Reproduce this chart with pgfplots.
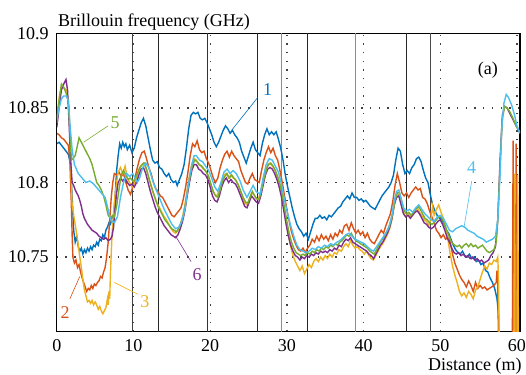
\documentclass[border=0pt]{standalone}
\usepackage{pgfplots}
\pgfplotsset{compat=1.18}
\usepackage{fontspec}
\setmainfont{Liberation Serif}
\definecolor{c1}{RGB}{0,114,189}
\definecolor{c2}{RGB}{217,83,25}
\definecolor{c3}{RGB}{237,177,32}
\definecolor{c4}{RGB}{77,190,238}
\definecolor{c5}{RGB}{119,172,48}
\definecolor{c6}{RGB}{126,47,142}
\begin{document}
\fontsize{18}{21}\selectfont
\begin{tikzpicture}[font=\fontsize{18}{21}\selectfont]
\begin{axis}[
  scale only axis, width=463.2pt, height=298.4pt,
  xmin=0, xmax=60.4, ymin=10.70, ymax=10.90,
  xtick={0,10,20,30,40,50,60}, xticklabels={0,10,20,30,40,50,60},
  ytick={10.75,10.8,10.85,10.9}, yticklabels={10.75,10.8,10.85,10.9},
  major tick length=0pt,
  tick label style={font=\fontsize{18}{21}\selectfont},
  yticklabel style={xshift=-2pt},
  xticklabel style={yshift=-1.5pt},
  grid=major,
  major grid style={black!75, line width=1.3pt, dash pattern=on 1.3pt off 7.4pt},
  axis line style={black, line width=1.1pt},
  every axis plot/.append style={line width=1.4pt},
]
\coordinate (O) at (rel axis cs:0,0);
\coordinate (T) at (rel axis cs:0,1);
% vertical reference lines
\addplot[forget plot, black!75, line width=0.8pt] coordinates {(9.9,10.70) (9.9,10.90)};
\addplot[forget plot, black!85, line width=0.7pt] coordinates {(13.2,10.70) (13.2,10.90)};
\addplot[forget plot, black!80, line width=0.8pt] coordinates {(19.7,10.70) (19.7,10.90)};
\addplot[forget plot, black!85, line width=0.7pt] coordinates {(26.1,10.70) (26.1,10.90)};
\addplot[forget plot, black!45, line width=1.1pt] coordinates {(29.3,10.70) (29.3,10.90)};
\addplot[forget plot, black!85, line width=0.7pt] coordinates {(32.7,10.70) (32.7,10.90)};
\addplot[forget plot, black!45, line width=1.1pt] coordinates {(38.9,10.70) (38.9,10.90)};
\addplot[forget plot, black!85, line width=0.7pt] coordinates {(45.6,10.70) (45.6,10.90)};
\addplot[forget plot, black!70, line width=0.8pt] coordinates {(48.75,10.70) (48.75,10.90)};
% 1 blue
\addplot[c1] coordinates {
(0,10.826)(0.3,10.827)(0.6,10.825)(0.9,10.823)(1.2,10.821)(1.5,10.819)(1.8,10.812)(2.0,10.790)(2.2,10.768)(2.4,10.760)(2.6,10.764)(2.8,10.757)(3.0,10.754)(3.2,10.756)(3.4,10.752)(3.6,10.755)(3.8,10.753)(4.0,10.756)(4.2,10.754)(4.4,10.757)(4.6,10.755)(4.8,10.758)(5.0,10.757)(5.2,10.760)(5.4,10.758)(5.6,10.762)(5.8,10.761)(6.0,10.765)(6.2,10.763)(6.4,10.768)(6.6,10.770)(6.8,10.773)(7.0,10.772)(7.2,10.777)(7.4,10.776)(7.6,10.790)(7.8,10.808)(8.0,10.818)(8.2,10.826)(8.4,10.823)(8.6,10.827)(8.8,10.824)(9.0,10.826)(9.2,10.822)(9.5,10.825)(9.8,10.820)(10.1,10.823)(10.4,10.830)(10.7,10.835)(11.0,10.840)(11.3,10.843)(11.6,10.838)(11.9,10.830)(12.2,10.822)(12.5,10.815)(12.8,10.813)(13.1,10.814)(13.4,10.810)(13.7,10.809)(14.0,10.806)(14.3,10.804)(14.6,10.806)(14.9,10.802)(15.2,10.800)(15.5,10.801)(15.7,10.798)(16.0,10.802)(16.3,10.806)(16.6,10.812)(16.9,10.823)(17.2,10.836)(17.5,10.845)(17.8,10.847)(18.1,10.846)(18.4,10.847)(18.7,10.843)(19.0,10.842)(19.3,10.843)(19.6,10.840)(19.9,10.836)(20.2,10.832)(20.5,10.827)(20.8,10.824)(21.1,10.827)(21.4,10.831)(21.7,10.835)(22.0,10.838)(22.3,10.836)(22.6,10.833)(22.9,10.835)(23.2,10.832)(23.5,10.830)(23.8,10.827)(24.1,10.821)(24.4,10.817)(24.7,10.813)(25.0,10.818)(25.3,10.823)(25.6,10.827)(25.9,10.822)(26.2,10.820)(26.5,10.818)(26.8,10.826)(27.1,10.832)(27.4,10.836)(27.7,10.832)(28.0,10.834)(28.3,10.832)(28.6,10.834)(28.9,10.829)(29.2,10.823)(29.5,10.815)(29.8,10.805)(30.1,10.797)(30.4,10.790)(30.7,10.783)(31.0,10.777)(31.3,10.772)(31.6,10.769)(31.9,10.767)(32.2,10.764)(32.5,10.766)(32.8,10.762)(33.1,10.767)(33.4,10.772)(33.7,10.776)(34.0,10.776)(34.3,10.778)(34.6,10.776)(34.9,10.777)(35.2,10.775)(35.5,10.778)(35.8,10.777)(36.1,10.779)(36.4,10.781)(36.7,10.783)(37.0,10.784)(37.3,10.787)(37.6,10.789)(37.9,10.791)(38.2,10.789)(38.5,10.793)(38.8,10.790)(39.1,10.790)(39.4,10.788)(39.7,10.789)(40.0,10.787)(40.3,10.788)(40.6,10.786)(40.9,10.784)(41.2,10.783)(41.5,10.782)(41.8,10.785)(42.1,10.788)(42.4,10.791)(42.7,10.793)(43.0,10.795)(43.3,10.797)(43.6,10.800)(43.9,10.805)(44.2,10.815)(44.5,10.823)(44.8,10.821)(45.1,10.812)(45.4,10.806)(45.7,10.808)(46.0,10.806)(46.3,10.810)(46.6,10.812)(46.9,10.816)(47.2,10.817)(47.5,10.814)(47.8,10.808)(48.1,10.803)(48.4,10.800)(48.7,10.792)(49.0,10.785)(49.3,10.781)(49.6,10.778)(49.9,10.776)(50.2,10.775)(50.5,10.772)(50.8,10.768)(51.1,10.766)(51.4,10.762)(51.7,10.758)(52.0,10.755)(52.3,10.753)(52.6,10.752)(52.9,10.754)(53.2,10.751)(53.5,10.750)(53.8,10.752)(54.1,10.749)(54.4,10.750)(54.7,10.747)(55.0,10.748)(55.3,10.745)(55.6,10.746)(55.9,10.741)(56.2,10.740)(56.5,10.736)(56.8,10.733)(57.1,10.729)(57.4,10.722)(57.6,10.712)(57.7,10.69)
};
% 2 orange
\addplot[c2] coordinates {
(0,10.833)(0.3,10.832)(0.6,10.830)(0.9,10.829)(1.2,10.827)(1.5,10.825)(1.7,10.815)(1.9,10.785)(2.0,10.765)(2.1,10.750)(2.3,10.746)(2.5,10.748)(2.7,10.743)(2.9,10.745)(3.1,10.740)(3.3,10.736)(3.5,10.733)(3.7,10.730)(3.9,10.727)(4.1,10.729)(4.3,10.728)(4.5,10.731)(4.7,10.729)(4.9,10.732)(5.1,10.731)(5.3,10.733)(5.5,10.734)(5.7,10.737)(5.9,10.736)(6.1,10.740)(6.3,10.743)(6.5,10.750)(6.7,10.760)(6.9,10.775)(7.1,10.790)(7.3,10.800)(7.5,10.806)(7.8,10.805)(8.1,10.807)(8.4,10.804)(8.7,10.806)(9.0,10.800)(9.3,10.795)(9.6,10.792)(9.9,10.797)(10.2,10.803)(10.5,10.810)(10.8,10.816)(11.1,10.820)(11.4,10.821)(11.7,10.816)(12.0,10.810)(12.3,10.806)(12.6,10.800)(12.9,10.796)(13.2,10.794)(13.5,10.791)(13.8,10.790)(14.1,10.787)(14.4,10.784)(14.7,10.781)(15.0,10.778)(15.3,10.777)(15.6,10.779)(15.9,10.781)(16.2,10.783)(16.5,10.789)(16.8,10.797)(17.1,10.807)(17.4,10.818)(17.7,10.826)(18.0,10.824)(18.3,10.828)(18.6,10.822)(18.9,10.820)(19.2,10.821)(19.5,10.816)(19.8,10.813)(20.1,10.808)(20.4,10.803)(20.7,10.800)(21.0,10.803)(21.3,10.810)(21.6,10.815)(21.9,10.819)(22.2,10.821)(22.5,10.817)(22.8,10.821)(23.1,10.818)(23.4,10.816)(23.7,10.814)(24.0,10.808)(24.3,10.804)(24.6,10.800)(24.9,10.799)(25.2,10.803)(25.5,10.806)(25.8,10.802)(26.1,10.801)(26.4,10.800)(26.7,10.808)(27.0,10.815)(27.3,10.820)(27.6,10.824)(27.9,10.820)(28.2,10.823)(28.5,10.818)(28.8,10.815)(29.1,10.808)(29.4,10.800)(29.7,10.791)(30.0,10.782)(30.3,10.774)(30.6,10.767)(30.9,10.762)(31.2,10.758)(31.5,10.755)(31.8,10.754)(32.1,10.756)(32.4,10.753)(32.7,10.756)(33.0,10.758)(33.3,10.762)(33.6,10.760)(33.9,10.764)(34.2,10.761)(34.5,10.765)(34.8,10.762)(35.1,10.764)(35.4,10.761)(35.7,10.765)(36.0,10.762)(36.3,10.766)(36.6,10.764)(36.9,10.768)(37.2,10.766)(37.5,10.771)(37.8,10.772)(38.1,10.768)(38.4,10.773)(38.7,10.769)(39.0,10.766)(39.3,10.768)(39.6,10.765)(39.9,10.767)(40.2,10.763)(40.5,10.766)(40.8,10.762)(41.1,10.760)(41.4,10.759)(41.7,10.762)(42.0,10.765)(42.3,10.768)(42.6,10.766)(42.9,10.771)(43.2,10.775)(43.5,10.779)(43.8,10.787)(44.1,10.798)(44.4,10.806)(44.7,10.800)(45.0,10.793)(45.3,10.791)(45.6,10.793)(45.9,10.790)(46.2,10.793)(46.5,10.795)(46.8,10.797)(47.1,10.795)(47.4,10.796)(47.7,10.790)(48.0,10.789)(48.3,10.786)(48.6,10.781)(48.9,10.777)(49.2,10.773)(49.5,10.768)(49.8,10.766)(50.1,10.763)(50.4,10.765)(50.7,10.762)(51.0,10.763)(51.3,10.760)(51.6,10.752)(51.9,10.746)(52.2,10.742)(52.5,10.738)(52.8,10.735)(53.1,10.733)(53.4,10.730)(53.7,10.734)(54.0,10.731)(54.3,10.727)(54.6,10.733)(54.9,10.729)(55.2,10.731)(55.5,10.729)(55.8,10.730)(56.1,10.728)(56.4,10.729)(56.7,10.730)(57.0,10.731)(57.3,10.733)(57.4,10.741)(57.5,10.733)(57.6,10.69)(59.4,10.69)(59.5,10.828)(59.6,10.69)(59.8,10.69)(59.9,10.826)(60.0,10.69)
};
% 3 yellow
\addplot[c3] coordinates {
(0,10.843)(0.2,10.852)(0.4,10.860)(0.7,10.864)(1.0,10.863)(1.3,10.862)(1.6,10.850)(1.8,10.815)(2.0,10.785)(2.2,10.778)(2.4,10.772)(2.6,10.765)(2.8,10.758)(3.0,10.750)(3.2,10.743)(3.4,10.735)(3.6,10.728)(3.8,10.724)(4.0,10.720)(4.2,10.721)(4.4,10.719)(4.6,10.721)(4.8,10.718)(5.0,10.720)(5.2,10.718)(5.4,10.715)(5.6,10.717)(5.8,10.714)(6.0,10.712)(6.2,10.714)(6.4,10.716)(6.6,10.722)(6.7,10.718)(6.8,10.727)(6.9,10.722)(7.0,10.740)(7.2,10.765)(7.4,10.780)(7.6,10.792)(7.8,10.800)(8.0,10.807)(8.3,10.810)(8.6,10.806)(8.9,10.811)(9.2,10.803)(9.5,10.800)(9.8,10.797)(10.1,10.799)(10.4,10.803)(10.7,10.808)(11.0,10.811)(11.3,10.813)(11.6,10.810)(11.9,10.805)(12.2,10.799)(12.5,10.794)(12.8,10.790)(13.1,10.786)(13.4,10.783)(13.7,10.780)(14.0,10.777)(14.3,10.775)(14.6,10.772)(14.9,10.769)(15.2,10.767)(15.5,10.766)(15.8,10.768)(16.1,10.772)(16.4,10.777)(16.7,10.785)(17.0,10.795)(17.3,10.805)(17.6,10.812)(17.9,10.816)(18.2,10.815)(18.5,10.812)(18.8,10.811)(19.1,10.809)(19.4,10.808)(19.7,10.805)(20.0,10.800)(20.3,10.795)(20.6,10.792)(20.9,10.791)(21.2,10.795)(21.5,10.801)(21.8,10.805)(22.1,10.806)(22.4,10.803)(22.7,10.805)(23.0,10.803)(23.3,10.802)(23.6,10.799)(23.9,10.795)(24.2,10.790)(24.5,10.786)(24.8,10.785)(25.1,10.789)(25.4,10.793)(25.7,10.792)(26.0,10.789)(26.3,10.789)(26.6,10.794)(26.9,10.801)(27.2,10.808)(27.5,10.812)(27.8,10.813)(28.1,10.811)(28.4,10.809)(28.7,10.804)(29.0,10.799)(29.3,10.793)(29.6,10.784)(29.9,10.774)(30.2,10.765)(30.5,10.757)(30.8,10.751)(31.1,10.747)(31.4,10.744)(31.7,10.741)(32.0,10.744)(32.3,10.739)(32.6,10.742)(32.9,10.745)(33.2,10.743)(33.5,10.747)(33.8,10.749)(34.1,10.747)(34.4,10.750)(34.7,10.748)(35.0,10.751)(35.3,10.749)(35.6,10.752)(35.9,10.750)(36.2,10.753)(36.5,10.752)(36.8,10.755)(37.1,10.754)(37.4,10.757)(37.7,10.759)(38.0,10.757)(38.3,10.761)(38.6,10.758)(38.9,10.756)(39.2,10.757)(39.5,10.755)(39.8,10.754)(40.1,10.752)(40.4,10.754)(40.7,10.751)(41.0,10.749)(41.3,10.748)(41.6,10.751)(41.9,10.754)(42.2,10.757)(42.5,10.759)(42.8,10.762)(43.1,10.765)(43.4,10.769)(43.7,10.775)(44.0,10.785)(44.3,10.791)(44.6,10.792)(44.9,10.786)(45.2,10.780)(45.5,10.777)(45.8,10.779)(46.1,10.777)(46.4,10.779)(46.7,10.781)(47.0,10.783)(47.3,10.780)(47.6,10.778)(47.9,10.775)(48.2,10.774)(48.5,10.771)(48.8,10.776)(49.0,10.784)(49.2,10.778)(49.5,10.782)(49.8,10.785)(50.1,10.780)(50.4,10.776)(50.7,10.770)(51.0,10.762)(51.3,10.752)(51.6,10.744)(51.9,10.738)(52.2,10.733)(52.5,10.727)(52.8,10.724)(53.1,10.726)(53.4,10.723)(53.7,10.727)(54.0,10.725)(54.3,10.722)(54.6,10.728)(54.9,10.730)(55.2,10.735)(55.5,10.740)(55.8,10.744)(56.1,10.742)(56.4,10.746)(56.7,10.745)(57.0,10.748)(57.3,10.747)(57.5,10.750)(57.6,10.735)(57.7,10.69)(59.6,10.69)(59.7,10.806)(59.75,10.69)(60.0,10.69)(60.1,10.805)(60.2,10.69)
};
% 6 purple
\addplot[c6] coordinates {
(0,10.837)(0.3,10.850)(0.6,10.862)(0.9,10.866)(1.2,10.869)(1.4,10.862)(1.6,10.840)(1.8,10.815)(2.0,10.800)(2.2,10.798)(2.4,10.795)(2.6,10.793)(2.8,10.791)(3.0,10.788)(3.2,10.784)(3.4,10.779)(3.6,10.776)(3.8,10.774)(4.0,10.772)(4.3,10.770)(4.6,10.768)(4.9,10.767)(5.2,10.766)(5.5,10.764)(5.8,10.763)(6.1,10.762)(6.4,10.763)(6.7,10.761)(7.0,10.762)(7.2,10.764)(7.4,10.770)(7.6,10.782)(7.8,10.793)(8.0,10.800)(8.3,10.803)(8.6,10.801)(8.9,10.803)(9.2,10.800)(9.5,10.798)(9.8,10.799)(10.1,10.797)(10.4,10.800)(10.7,10.805)(11.0,10.809)(11.3,10.810)(11.6,10.806)(11.9,10.800)(12.2,10.794)(12.5,10.789)(12.8,10.784)(13.1,10.780)(13.4,10.777)(13.7,10.774)(14.0,10.771)(14.3,10.769)(14.6,10.767)(14.9,10.765)(15.2,10.764)(15.5,10.763)(15.8,10.765)(16.1,10.769)(16.4,10.774)(16.7,10.781)(17.0,10.791)(17.3,10.800)(17.6,10.808)(17.9,10.812)(18.2,10.812)(18.5,10.809)(18.8,10.808)(19.1,10.806)(19.4,10.805)(19.7,10.802)(20.0,10.797)(20.3,10.791)(20.6,10.788)(20.9,10.787)(21.2,10.791)(21.5,10.797)(21.8,10.801)(22.1,10.803)(22.4,10.800)(22.7,10.802)(23.0,10.800)(23.3,10.799)(23.6,10.796)(23.9,10.792)(24.2,10.788)(24.5,10.784)(24.8,10.783)(25.1,10.787)(25.4,10.791)(25.7,10.789)(26.0,10.787)(26.3,10.786)(26.6,10.791)(26.9,10.798)(27.2,10.805)(27.5,10.809)(27.8,10.810)(28.1,10.809)(28.4,10.806)(28.7,10.802)(29.0,10.797)(29.3,10.790)(29.6,10.781)(29.9,10.772)(30.2,10.764)(30.5,10.758)(30.8,10.754)(31.1,10.751)(31.4,10.750)(31.7,10.748)(32.0,10.750)(32.3,10.749)(32.6,10.751)(32.9,10.750)(33.2,10.752)(33.5,10.751)(33.8,10.753)(34.1,10.752)(34.4,10.754)(34.7,10.753)(35.0,10.754)(35.3,10.753)(35.6,10.755)(35.9,10.754)(36.2,10.756)(36.5,10.755)(36.8,10.758)(37.1,10.757)(37.4,10.760)(37.7,10.762)(38.0,10.761)(38.3,10.763)(38.6,10.760)(38.9,10.759)(39.2,10.758)(39.5,10.757)(39.8,10.756)(40.1,10.755)(40.4,10.754)(40.7,10.752)(41.0,10.751)(41.3,10.749)(41.6,10.752)(41.9,10.755)(42.2,10.758)(42.5,10.760)(42.8,10.763)(43.1,10.766)(43.4,10.770)(43.7,10.776)(44.0,10.785)(44.3,10.790)(44.6,10.791)(44.9,10.785)(45.2,10.779)(45.5,10.777)(45.8,10.778)(46.1,10.776)(46.4,10.778)(46.7,10.780)(47.0,10.781)(47.3,10.779)(47.6,10.776)(47.9,10.773)(48.2,10.772)(48.5,10.770)(48.8,10.769)(49.1,10.770)(49.4,10.772)(49.7,10.774)(50.0,10.775)(50.3,10.772)(50.6,10.768)(50.9,10.763)(51.2,10.760)(51.5,10.756)(51.8,10.753)(52.1,10.752)(52.4,10.753)(52.7,10.751)(53.0,10.752)(53.3,10.750)(53.6,10.751)(53.9,10.749)(54.2,10.750)(54.5,10.748)(54.8,10.749)(55.1,10.747)(55.4,10.748)(55.7,10.746)(56.0,10.747)(56.3,10.748)(56.6,10.751)(56.9,10.753)(57.2,10.757)(57.5,10.775)(57.8,10.815)(58.1,10.845)(58.4,10.851)(58.7,10.850)(59.0,10.847)(59.4,10.843)(59.8,10.839)(60.2,10.835)(60.4,10.833)
};
% 5 green
\addplot[c5] coordinates {
(0,10.840)(0.3,10.855)(0.6,10.866)(0.9,10.864)(1.2,10.860)(1.5,10.855)(1.7,10.835)(1.9,10.815)(2.1,10.816)(2.4,10.818)(2.7,10.825)(2.9,10.830)(3.1,10.828)(3.4,10.825)(3.7,10.822)(4.0,10.819)(4.3,10.816)(4.6,10.812)(4.9,10.806)(5.2,10.800)(5.5,10.798)(5.8,10.795)(6.1,10.791)(6.4,10.785)(6.7,10.778)(7.0,10.776)(7.3,10.778)(7.5,10.777)(7.8,10.784)(8.1,10.795)(8.4,10.805)(8.7,10.808)(9.0,10.805)(9.3,10.802)(9.6,10.803)(9.9,10.801)(10.2,10.802)(10.5,10.806)(10.8,10.810)(11.1,10.812)(11.4,10.813)(11.7,10.809)(12.0,10.803)(12.3,10.798)(12.6,10.793)(12.9,10.788)(13.2,10.784)(13.5,10.781)(13.8,10.778)(14.1,10.775)(14.4,10.773)(14.7,10.771)(15.0,10.769)(15.3,10.768)(15.6,10.767)(15.9,10.769)(16.2,10.773)(16.5,10.778)(16.8,10.786)(17.1,10.796)(17.4,10.805)(17.7,10.812)(18.0,10.815)(18.3,10.814)(18.6,10.812)(18.9,10.811)(19.2,10.809)(19.5,10.807)(19.8,10.804)(20.1,10.799)(20.4,10.794)(20.7,10.791)(21.0,10.790)(21.3,10.795)(21.6,10.801)(21.9,10.804)(22.2,10.806)(22.5,10.803)(22.8,10.805)(23.1,10.803)(23.4,10.801)(23.7,10.798)(24.0,10.794)(24.3,10.790)(24.6,10.787)(24.9,10.786)(25.2,10.790)(25.5,10.794)(25.8,10.791)(26.1,10.789)(26.4,10.789)(26.7,10.795)(27.0,10.802)(27.3,10.808)(27.6,10.812)(27.9,10.813)(28.2,10.811)(28.5,10.808)(28.8,10.804)(29.1,10.799)(29.4,10.792)(29.7,10.783)(30.0,10.774)(30.3,10.766)(30.6,10.760)(30.9,10.756)(31.2,10.753)(31.5,10.752)(31.8,10.751)(32.1,10.752)(32.4,10.751)(32.7,10.753)(33.0,10.752)(33.3,10.754)(33.6,10.753)(33.9,10.755)(34.2,10.754)(34.5,10.756)(34.8,10.755)(35.1,10.757)(35.4,10.756)(35.7,10.758)(36.0,10.757)(36.3,10.759)(36.6,10.758)(36.9,10.760)(37.2,10.761)(37.5,10.763)(37.8,10.765)(38.1,10.764)(38.4,10.766)(38.7,10.763)(39.0,10.761)(39.3,10.760)(39.6,10.759)(39.9,10.758)(40.2,10.757)(40.5,10.756)(40.8,10.754)(41.1,10.753)(41.4,10.752)(41.7,10.755)(42.0,10.758)(42.3,10.761)(42.6,10.763)(42.9,10.766)(43.2,10.769)(43.5,10.773)(43.8,10.779)(44.1,10.788)(44.4,10.793)(44.7,10.793)(45.0,10.787)(45.3,10.781)(45.6,10.779)(45.9,10.780)(46.2,10.778)(46.5,10.780)(46.8,10.782)(47.1,10.784)(47.4,10.782)(47.7,10.779)(48.0,10.776)(48.3,10.775)(48.6,10.773)(48.9,10.772)(49.2,10.773)(49.5,10.775)(49.8,10.777)(50.1,10.777)(50.4,10.774)(50.7,10.770)(51.0,10.766)(51.3,10.762)(51.6,10.759)(51.9,10.758)(52.2,10.757)(52.5,10.758)(52.8,10.756)(53.1,10.758)(53.4,10.759)(53.7,10.757)(54.0,10.759)(54.3,10.757)(54.6,10.758)(54.9,10.756)(55.2,10.757)(55.5,10.758)(55.8,10.756)(56.1,10.754)(56.4,10.753)(56.7,10.754)(57.0,10.755)(57.3,10.760)(57.5,10.775)(57.8,10.812)(58.1,10.843)(58.4,10.851)(58.7,10.850)(59.0,10.848)(59.4,10.844)(59.8,10.839)(60.2,10.835)(60.4,10.834)
};
% 4 light blue
\addplot[c4] coordinates {
(0,10.842)(0.3,10.850)(0.6,10.856)(0.9,10.858)(1.2,10.858)(1.5,10.855)(1.7,10.840)(2.0,10.822)(2.3,10.812)(2.8,10.806)(3.3,10.803)(3.8,10.800)(4.3,10.801)(4.8,10.799)(5.3,10.796)(5.8,10.793)(6.3,10.790)(6.6,10.784)(6.9,10.777)(7.2,10.774)(7.5,10.773)(7.9,10.777)(8.3,10.790)(8.7,10.800)(9.1,10.806)(9.5,10.804)(9.9,10.806)(10.2,10.803)(10.5,10.800)(10.8,10.803)(11.2,10.810)(11.6,10.813)(12.0,10.810)(12.4,10.803)(12.8,10.797)(13.2,10.792)(13.6,10.787)(14.0,10.782)(14.5,10.777)(15.0,10.772)(15.5,10.769)(15.9,10.770)(16.3,10.774)(16.7,10.782)(17.0,10.793)(17.3,10.803)(17.6,10.812)(17.9,10.818)(18.2,10.818)(18.6,10.815)(19.0,10.814)(19.4,10.811)(19.8,10.808)(20.2,10.803)(20.6,10.797)(21.0,10.794)(21.4,10.800)(21.8,10.807)(22.2,10.809)(22.6,10.806)(23.0,10.808)(23.4,10.806)(23.9,10.801)(24.3,10.795)(24.8,10.790)(25.2,10.794)(25.6,10.798)(26.0,10.794)(26.5,10.792)(26.9,10.803)(27.3,10.812)(27.7,10.816)(28.1,10.815)(28.5,10.811)(28.9,10.807)(29.3,10.799)(29.7,10.788)(30.1,10.779)(30.5,10.771)(30.9,10.764)(31.3,10.758)(31.7,10.755)(32.1,10.754)(32.5,10.753)(32.9,10.754)(33.3,10.756)(33.7,10.755)(34.1,10.757)(34.5,10.756)(34.9,10.758)(35.3,10.757)(35.7,10.759)(36.1,10.758)(36.5,10.760)(36.9,10.761)(37.3,10.763)(37.7,10.765)(38.1,10.766)(38.5,10.764)(38.9,10.762)(39.3,10.761)(39.7,10.760)(40.1,10.759)(40.5,10.757)(40.9,10.755)(41.3,10.754)(41.7,10.757)(42.1,10.760)(42.5,10.763)(42.9,10.766)(43.3,10.770)(43.7,10.778)(44.0,10.788)(44.3,10.794)(44.6,10.795)(44.9,10.789)(45.2,10.783)(45.6,10.781)(46.0,10.782)(46.4,10.780)(46.8,10.783)(47.2,10.785)(47.6,10.782)(48.0,10.779)(48.4,10.777)(48.8,10.775)(49.2,10.774)(49.6,10.777)(50.0,10.778)(50.4,10.776)(50.8,10.772)(51.2,10.768)(51.6,10.767)(52.0,10.769)(52.4,10.770)(52.8,10.771)(53.2,10.770)(53.6,10.768)(54.0,10.767)(54.4,10.766)(54.8,10.764)(55.2,10.763)(55.6,10.762)(56.0,10.760)(56.4,10.761)(56.8,10.762)(57.2,10.764)(57.5,10.775)(57.8,10.805)(58.0,10.835)(58.3,10.853)(58.6,10.859)(58.9,10.857)(59.3,10.852)(59.7,10.845)(60.0,10.838)(60.4,10.833)
};
% leader lines
\draw[c1, line width=0.6pt] (axis cs:26.2,10.857) -- (axis cs:22.8,10.835);
\draw[c5, line width=0.6pt] (axis cs:6.7,10.838) -- (axis cs:3.5,10.827);
\draw[c2, line width=0.6pt] (axis cs:1.7,10.722) -- (axis cs:3.0,10.737);
\draw[c3, line width=0.6pt] (axis cs:10.6,10.725) -- (axis cs:7.5,10.733);
\draw[c6, line width=0.6pt] (axis cs:17.5,10.747) -- (axis cs:15.5,10.764);
\draw[c4, line width=0.6pt] (axis cs:54.1,10.801) -- (axis cs:53.1,10.770);
\coordinate (L1) at (axis cs:27.5,10.862);
\coordinate (L5) at (axis cs:7.6,10.840);
\coordinate (L2) at (axis cs:1.07,10.713);
\coordinate (L3) at (axis cs:11.5,10.720);
\coordinate (L6) at (axis cs:18.3,10.738);
\coordinate (L4) at (axis cs:54.1,10.810);
\coordinate (LA) at (axis cs:56.2,10.875);
\end{axis}
\node[c1] at (L1) {1};
\node[c5] at (L5) {5};
\node[c2] at (L2) {2};
\node[c3] at (L3) {3};
\node[c6] at (L6) {6};
\node[c4] at (L4) {4};
\node[black] at (LA) {(a)};
\node[anchor=base west, inner sep=0pt] at ([shift={(1pt,6.6pt)}]T) {Brillouin frequency (GHz)};
\node[anchor=base west, inner sep=0pt] at ([shift={(371.2pt,-38.8pt)}]O) {Distance (m)};
\pgfresetboundingbox
\path[use as bounding box] ([shift={(-56.8pt,-42.3pt)}]O) rectangle ([shift={(469.2pt,331.7pt)}]O);
\end{tikzpicture}
\end{document}
